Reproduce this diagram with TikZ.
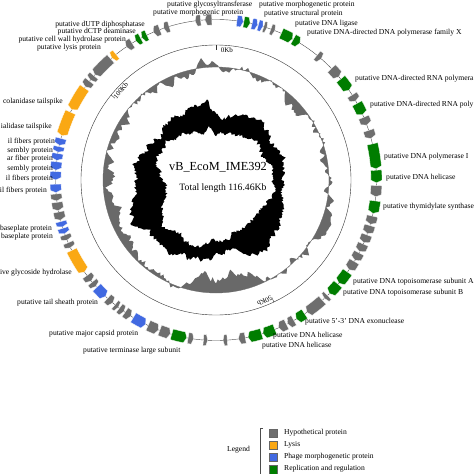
\documentclass[tikz,border=0pt]{standalone}
\usepackage{fontspec}
\setmainfont{Liberation Serif}
\definecolor{gg}{RGB}{110,110,110}
\definecolor{go}{RGB}{250,168,20}
\definecolor{gb}{RGB}{65,105,225}
\definecolor{gr}{RGB}{0,125,0}
\definecolor{sk}{RGB}{105,105,105}
\newcommand\gn[4]{%
  \pgfmathsetmacro\ga{#1-90}\pgfmathsetmacro\gb{#2-90}%
  \pgfmathsetmacro\tp{min(0.9,(#2-#1)/3)}%
  \ifnum#4=1
    \pgfmathsetmacro\gc{\gb-\tp}%
    \filldraw[fill=#3,draw=white,line width=0.3pt] (\ga:155) arc[start angle=\ga,end angle=\gc,radius=155] -- (\gb:160.5) -- (\gc:166) arc[start angle=\gc,end angle=\ga,radius=166] -- cycle;
  \else
    \pgfmathsetmacro\gc{\ga+\tp}%
    \filldraw[fill=#3,draw=white,line width=0.3pt] (\gc:155) arc[start angle=\gc,end angle=\gb,radius=155] -- (\gb:166) arc[start angle=\gb,end angle=\gc,radius=166] -- (\ga:160.5) -- cycle;
  \fi}
\begin{document}
\begin{tikzpicture}[x=1pt,y=-1pt,
  lab/.style={font=\fontsize{7.6}{8}\selectfont,inner sep=0pt},
  sclab/.style={font=\fontsize{7}{8}\selectfont,inner sep=0pt},
  title/.style={font=\fontsize{12.3}{14}\selectfont,inner sep=0pt},
  sub/.style={font=\fontsize{9.7}{11}\selectfont,inner sep=0pt},
  legbox/.style={draw=black!60,line width=0.3pt}]
\pgfmathsetseed{11}
\useasboundingbox (0,0) rectangle (474,474);
\fill[white] (0,0) rectangle (474,474);
% GC skew ring (random walk)
\begin{scope}[shift={(216,180)}]
\gdef\wk{0}\gdef\pts{}%
\foreach \i in {0,...,359}{%
  \pgfmathsetmacro\nw{0.92*\wk+1.5*(rnd-0.5)}%
  \xdef\wk{\nw}%
  \pgfmathsetmacro\rr{110+4*sin(\i+30)+2*sin(3*\i+70)+5*\nw+0.8*rnd}%
  \xdef\pts{\pts(\i-90:\rr)--}}%
\edef\cmd{\noexpand\fill[sk,even odd rule]\pts cycle (0:113) arc[start angle=0,end angle=-360,radius=113] -- cycle;}\cmd
\draw[gg,line width=0.3pt] (0,0) circle[radius=113];
\end{scope}
% GC content ring (random walk)
\begin{scope}[shift={(210,185)}]
\gdef\wk{0}\gdef\wj{0}\gdef\pts{}\gdef\qts{}%
\foreach \i in {0,...,359}{%
  \pgfmathsetmacro\nw{0.95*\wk+1.0*(rnd-0.5)}%
  \xdef\wk{\nw}%
  \pgfmathsetmacro\nj{0.95*\wj+1.0*(rnd-0.5)}%
  \xdef\wj{\nj}%
  \pgfmathsetmacro\rr{76+2*sin(2*\i+20)+5*\nw+0.7*rnd}%
  \pgfmathsetmacro\rq{58-2*sin(3*\i+40)-4*\nj-0.7*rnd}%
  \xdef\pts{\pts(\i-90:\rr)--}%
  \xdef\qts{\qts(\i-90:\rq)--}}%
\edef\cmd{\noexpand\fill[black,even odd rule]\pts cycle \qts cycle;}\cmd
\end{scope}
\begin{scope}[shift={(216,180)}]
% scale circle and ticks
\draw[black!80,line width=0.4pt] (0,0) circle[radius=135];
\draw[black!80,line width=0.4pt] (-90:135) -- (-90:130);
\draw[black!80,line width=0.4pt] (64.6:135) -- (64.6:130);
\draw[black!80,line width=0.4pt] (219:135) -- (219:130);
\node[sclab,anchor=north west,rotate=0] (k0) at (-88:133) {0Kb};
\node[sclab,anchor=north west,rotate=-154.6] (k50) at (64.6:133) {50Kb};
\node[sclab,anchor=north west,rotate=51] (k100) at (219:133) {100Kb};
% gene backbone
\draw[black!70,line width=0.4pt] (0,0) circle[radius=160.5];
\foreach \a/\b/\c/\d in {7.5/9.8/gb/1,10/12.3/gr/1,13/15/gb/1,15.3/17/gb/1,17.3/18.5/gg/1,20/21.5/gg/1,
 24/28.5/gr/1,28.8/31.5/gr/1,39/41/gg/1,46/50/gg/1,51/56/gr/1,58/60.5/gg/1,61.5/66/gr/1,67/70/gg/1,72/75/gg/1,
 77/86/gr/1,86.5/91/gr/1,92/96/gg/1,97.5/102/gr/1,103/106/gg/1,106.5/109.5/gg/1,110/113/gg/1,113.5/116.5/gg/1,
 117/120/gg/1,120.5/124/gg/1,125/130/gr/1,130.5/135/gr/1,136/137.5/gg/1,138.5/145.5/gg/1,146.5/150/gr/1,
 151/153.5/gg/1,154/157/gg/1,158.5/163/gr/1,163.5/168.5/gr/1,169.5/172/gg/1,176/177.5/gg/1,
 183/184.5/gg/-1,188/190/gg/-1,190.5/196/gr/-1,196.5/200.5/gg/-1,201/205/gg/-1,206/211/gb/-1,212/214.5/gg/-1,
 215/217/gg/-1,217.5/219/gg/-1,220/222.5/gg/-1,223.5/228/gb/-1,228.5/230.5/gg/-1,231/233.5/gg/-1,
 235/244/go/-1,245/247/gg/-1,248/250/gg/-1,250.5/252.5/gb/-1,253/255/gb/-1,255.5/258.5/gg/-1,259/262/gg/-1,
 262.5/265/gg/-1,265.5/268.5/gb/-1,270/273/gb/-1,273.5/276.5/gb/-1,277/279.5/gb/-1,280/282/gb/-1,282.5/285/gb/-1,
 286/295/go/-1,296/305/go/-1,305.5/308/gg/-1,308.5/310.5/gg/-1,311/319/gg/-1,319.5/321.5/go/-1,
 326/328.5/gg/-1,330/332/gr/-1,332.5/334.5/gr/-1,337/339.5/gg/-1,341/343/gg/-1,352.5/354.5/gg/-1,356/358.5/gg/-1}
 {\gn{\a}{\b}{\c}{\d}}
\end{scope}
% labels, top
\node[lab,anchor=west] (t1) at (167,5) {putative glycosyltransferase};
\node[lab,anchor=west] (t2) at (153,13) {putative morphogenic protein};
\node[lab,anchor=west] (t3) at (259,5) {putative morphogenetic protein};
\node[lab,anchor=west] (t4) at (264,14) {putative structural protein};
\node[lab,anchor=west] (t5) at (295,24) {putative DNA ligase};
\node[lab,anchor=west] (t6) at (307,33) {putative DNA-directed DNA polymerase family X};
% right
\node[lab,anchor=west] (r1) at (355,79) {putative DNA-directed RNA polymera};
\node[lab,anchor=west] (r2) at (370,105) {putative DNA-directed RNA poly};
\node[lab,anchor=west] (r3) at (384,157) {putative DNA polymerase I};
\node[lab,anchor=west] (r4) at (386,178) {putative DNA helicase};
\node[lab,anchor=west] (r5) at (383,207) {putative thymidylate synthase};
\node[lab,anchor=west] (r6) at (353,282) {putative DNA topoisomerase subunit A};
\node[lab,anchor=west] (r7) at (343,293) {putative DNA topoisomerase subunit B};
\node[lab,anchor=west] (r8) at (305,322) {putative 5'-3' DNA exonuclease};
\node[lab,anchor=west] (r9) at (273,336) {putative DNA helicase};
\node[lab,anchor=west] (r10) at (262,346) {putative DNA helicase};
% bottom / left
\node[lab,anchor=west] (b1) at (83,351) {putative terminase large subunit};
\node[lab,anchor=west] (b2) at (49,334) {putative major capsid protein};
\node[lab,anchor=west] (b3) at (17,303) {putative tail sheath protein};
\node[lab,anchor=east] (l1) at (72,273) {ive glycoside hydrolase};
\node[lab,anchor=east] (l2) at (53,237) {baseplate protein};
\node[lab,anchor=east] (l3) at (52,229) {baseplate protein};
\node[lab,anchor=east] (l4) at (47,191) {il fibers protein};
\node[lab,anchor=east] (l5) at (53,179) {il fibers protein};
\node[lab,anchor=east] (l6) at (53,169) {sembly protein};
\node[lab,anchor=east] (l7) at (53,159) {ar fiber protein};
\node[lab,anchor=east] (l8) at (53,151) {sembly protein};
\node[lab,anchor=east] (l9) at (55,142) {il fibers protein};
\node[lab,anchor=east] (l10) at (52,127) {ialidase tailspike};
\node[lab,anchor=east] (l11) at (63,102) {colanidase tailspike};
\node[lab,anchor=east] (l12) at (101,48) {putative lysis protein};
\node[lab,anchor=east] (l13) at (126,40) {putative cell wall hydrolase protein};
\node[lab,anchor=east] (l14) at (136,32) {putative dCTP deaminase};
\node[lab,anchor=east] (l15) at (145,25) {putative dUTP diphosphatase};
% centre
\node[title] (name) at (218,167) {vB\_EcoM\_IME392};
\node[sub] (len) at (223,188) {Total length 116.46Kb};
% legend
\node[lab] (lg) at (238.5,450) {Legend};
\draw[black!70,line width=0.5pt] (263,428) -- (260,428) -- (260,474);
\draw[legbox,fill=gg] (269,429) rectangle (277,437);
\draw[legbox,fill=go] (269,441) rectangle (277,449);
\draw[legbox,fill=gb] (269,453) rectangle (277,461);
\draw[legbox,fill=gr] (269,465) rectangle (277,474);
\node[lab,anchor=west] (lh) at (284,433) {Hypothetical protein};
\node[lab,anchor=west] (ll) at (284,445) {Lysis};
\node[lab,anchor=west] (lp) at (284,457) {Phage morphogenetic protein};
\node[lab,anchor=west] (lr) at (284,469) {Replication and regulation};
\end{tikzpicture}
\end{document}
